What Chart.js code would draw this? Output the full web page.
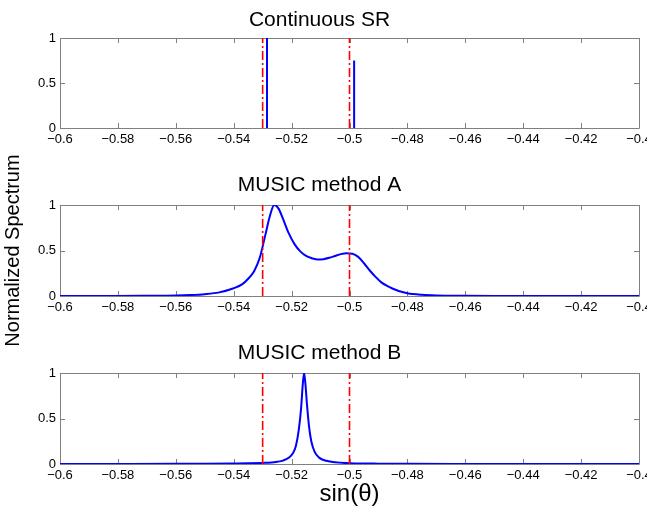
<!DOCTYPE html>
<html>
<head>
<meta charset="utf-8">
<script src="https://cdn.jsdelivr.net/npm/chart.js@4.4.1/dist/chart.umd.min.js"></script>
<style>
  html, body { margin: 0; padding: 0; width: 647px; height: 506px; overflow: hidden; background: #fff; }
  .panel { position: absolute; left: 0; width: 660px; }
  #p1 { top: 0; height: 160px; }
  #p2 { top: 145px; height: 210px; }
  #p3 { top: 330px; height: 176px; }
</style>
</head>
<body>
<div class="panel" id="p1"><canvas id="c1"></canvas></div>
<div class="panel" id="p2"><canvas id="c2"></canvas></div>
<div class="panel" id="p3"><canvas id="c3"></canvas></div>
<script>
// true directions (red dash-dot markers)
const trueDoa = [-0.53, -0.5];

// continuous SR: two spikes
const srX = [-0.5285, -0.4984];
const srY = [1, 0.75];

// MUSIC method A
const musicAX = [-0.6, -0.58, -0.57, -0.56, -0.555, -0.55, -0.545, -0.54, -0.537, -0.535, -0.533,
  -0.531, -0.529, -0.5275, -0.526, -0.5245, -0.523, -0.521, -0.519, -0.517, -0.515, -0.513,
  -0.511, -0.509, -0.507, -0.505, -0.503, -0.501, -0.499, -0.497, -0.495, -0.493, -0.491,
  -0.489, -0.487, -0.485, -0.483, -0.48, -0.475, -0.47, -0.46, -0.45, -0.4];
const musicAY = [0, 0, 0.002, 0.005, 0.01, 0.02, 0.04, 0.085, 0.13, 0.19, 0.27,
  0.42, 0.68, 0.88, 1.0, 0.96, 0.85, 0.69, 0.57, 0.49, 0.44, 0.415,
  0.4, 0.405, 0.42, 0.44, 0.46, 0.47, 0.465, 0.43, 0.36, 0.28, 0.21,
  0.15, 0.11, 0.08, 0.055, 0.03, 0.013, 0.006, 0.002, 0, 0];

// MUSIC method B
const musicBX = [-0.6, -0.58, -0.56, -0.55, -0.54, -0.535, -0.53, -0.527, -0.525, -0.523, -0.521,
  -0.5195, -0.5185, -0.5175, -0.5167, -0.5162, -0.5157, -0.5152, -0.5147, -0.514, -0.5132,
  -0.512, -0.5105, -0.508, -0.505, -0.5, -0.495, -0.49, -0.48, -0.46, -0.4];
const musicBY = [0, 0.001, 0.002, 0.003, 0.006, 0.008, 0.012, 0.016, 0.024, 0.037, 0.068,
  0.12, 0.2, 0.38, 0.62, 0.85, 1.0, 0.87, 0.66, 0.42, 0.25,
  0.13, 0.07, 0.035, 0.018, 0.009, 0.005, 0.004, 0.002, 0.001, 0];

// axis ticks
const xMin = -0.6, xMax = -0.4, xStep = 0.02;
const yMin = 0, yMax = 1, yStep = 0.5;

const FONT = "'Liberation Sans', Arial, Helvetica, sans-serif";
const BLUE = '#0000ff';
const RED = '#ff0000';
const AXIS = '#808080';

function pts(xs, ys) {
  return xs.map((x, i) => ({ x: x, y: ys[i] }));
}

function doaSets() {
  return trueDoa.map(x => ({
    data: [{ x: x, y: yMin }, { x: x, y: yMax }],
    borderColor: RED,
    borderWidth: 1.6,
    borderDash: [9, 3, 2, 3],
    pointRadius: 0
  }));
}

function curveSet(xs, ys) {
  return {
    data: pts(xs, ys),
    borderColor: BLUE,
    borderWidth: 2,
    pointRadius: 0,
    cubicInterpolationMode: 'monotone'
  };
}

// box with inward ticks, matlab style
const framePlugin = {
  id: 'frame',
  beforeDatasetsDraw(chart) {
    const { ctx, chartArea: a, scales } = chart;
    const len = 5;
    ctx.save();
    ctx.strokeStyle = AXIS;
    ctx.lineWidth = 1;
    ctx.beginPath();
    ctx.rect(Math.round(a.left) + 0.5, Math.round(a.top) + 0.5,
      Math.round(a.right - a.left), Math.round(a.bottom - a.top));
    scales.x.ticks.forEach(t => {
      const px = Math.round(scales.x.getPixelForValue(t.value)) + 0.5;
      ctx.moveTo(px, a.bottom); ctx.lineTo(px, a.bottom - len);
      ctx.moveTo(px, a.top); ctx.lineTo(px, a.top + len);
    });
    scales.y.ticks.forEach(t => {
      const py = Math.round(scales.y.getPixelForValue(t.value)) + 0.5;
      ctx.moveTo(a.left, py); ctx.lineTo(a.left + len, py);
      ctx.moveTo(a.right, py); ctx.lineTo(a.right - len, py);
    });
    ctx.stroke();
    ctx.restore();
  }
};

function makeChart(id, title, datasets, cfg) {
  const ctx = document.getElementById(id).getContext('2d');
  return new Chart(ctx, {
    type: 'line',
    data: { datasets: datasets },
    plugins: [framePlugin],
    options: {
      responsive: true,
      maintainAspectRatio: false,
      animation: false,
      layout: { padding: { left: 0, right: 21, top: 0, bottom: 0 } },
      plugins: {
        legend: { display: false },
        tooltip: { enabled: false },
        title: {
          display: true,
          text: title,
          color: '#000',
          font: { family: FONT, size: 21, weight: 'normal', lineHeight: 1.2 },
          padding: cfg.titlePad
        }
      },
      scales: {
        x: {
          type: 'linear',
          min: xMin,
          max: xMax,
          grid: { display: false, drawTicks: false },
          border: { display: false },
          ticks: {
            stepSize: xStep,
            padding: 4,
            maxRotation: 0,
            autoSkip: false,
            color: '#000',
            font: { family: FONT, size: 13 },
            callback: v => String(Number(v.toFixed(2))).replace('-', '\u2212')
          },
          title: cfg.xTitle || { display: false },
          afterFit: s => { s.height = cfg.xHeight; }
        },
        y: {
          min: yMin,
          max: yMax,
          grid: { display: false, drawTicks: false },
          border: { display: false },
          ticks: {
            stepSize: yStep,
            padding: 4,
            color: '#000',
            font: { family: FONT, size: 13 },
            callback: v => String(Number(v.toFixed(1)))
          },
          title: cfg.yTitle || { display: false },
          afterFit: s => { s.width = 60; }
        }
      }
    }
  });
}

makeChart('c1', 'Continuous SR',
  doaSets().concat(srX.map((x, i) => ({
    data: [{ x: x, y: 0 }, { x: x, y: srY[i] }],
    borderColor: BLUE,
    borderWidth: 2,
    pointRadius: 0
  }))),
  { titlePad: { top: 7.4, bottom: 5.4 }, xHeight: 32 });

makeChart('c2', 'MUSIC method A',
  doaSets().concat([curveSet(musicAX, musicAY)]),
  {
    titlePad: { top: 27.9, bottom: 6.9 }, xHeight: 59,
    yTitle: {
      display: true,
      text: 'Normalized Spectrum',
      color: '#000',
      font: { family: FONT, size: 20, lineHeight: 1.2 },
      padding: { top: 1, bottom: 0 }
    }
  });

makeChart('c3', 'MUSIC method B',
  doaSets().concat([curveSet(musicBX, musicBY)]),
  {
    titlePad: { top: 10.9, bottom: 6.9 }, xHeight: 42,
    xTitle: {
      display: true,
      text: 'sin(\u03b8)',
      color: '#000',
      font: { family: FONT, size: 24, lineHeight: 1.0 },
      padding: { top: 0, bottom: 0 }
    }
  });
</script>
</body>
</html>
